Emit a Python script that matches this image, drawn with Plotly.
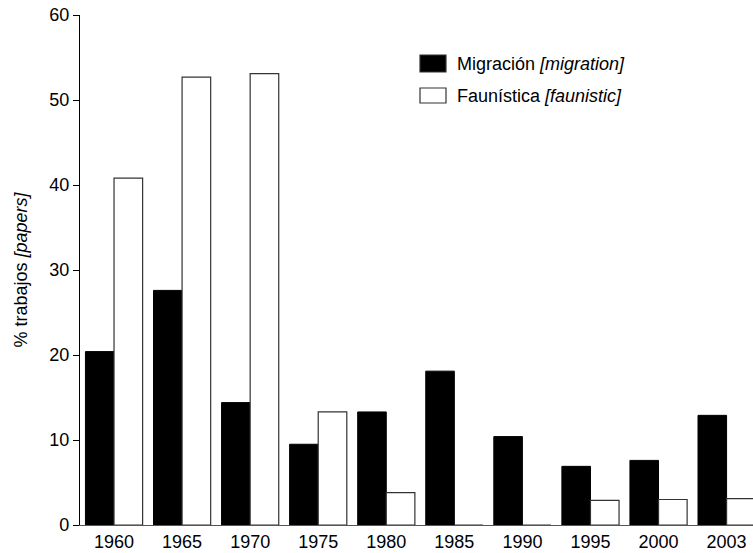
import plotly.graph_objects as go

years = ["1960", "1965", "1970", "1975", "1980", "1985", "1990", "1995", "2000", "2003"]
migracion = [20.4, 27.6, 14.4, 9.5, 13.3, 18.1, 10.4, 6.9, 7.6, 12.9]
faunistica = [40.8, 52.7, 53.1, 13.3, 3.8, 0.0, 0.0, 2.9, 3.0, 3.1]

series_names = ["Migración <i>[migration]</i>", "Faunística <i>[faunistic]</i>"]
FONT = "Liberation Sans, Arial, Helvetica, sans-serif"
FS = 18

W, H = 753, 553
ML, MR, MT, MB = 80, 0, 15, 28
pw, ph = W - ML - MR, H - MT - MB

fig = go.Figure()
fig.add_trace(go.Bar(x=years, y=migracion, name=series_names[0],
                     marker=dict(color="black", line=dict(color="black", width=1)),
                     showlegend=False))
fig.add_trace(go.Bar(x=years, y=faunistica, name=series_names[1],
                     marker=dict(color="white", line=dict(color="#333333", width=1.2)),
                     showlegend=False))

# custom legend (pixel positions converted to paper coords)
def px(x):
    return (x - ML) / pw

def py(y):
    return (H - MB - y) / ph

legend_rows = [(55, 72, "black", series_names[0]), (88, 103, "white", series_names[1])]
for top, bot, fill, label in legend_rows:
    fig.add_shape(type="rect", xref="paper", yref="paper",
                  x0=px(420), x1=px(446), y0=py(bot), y1=py(top),
                  fillcolor=fill, line=dict(color="#333333", width=1.2))
    fig.add_annotation(xref="paper", yref="paper", x=px(455), y=py((top + bot) / 2),
                       text=label, showarrow=False, xanchor="left", yanchor="middle",
                       font=dict(family=FONT, size=FS, color="black"))

fig.update_layout(
    width=W, height=H,
    margin=dict(l=ML, r=MR, t=MT, b=MB, pad=0),
    paper_bgcolor="white", plot_bgcolor="white",
    barmode="group", bargap=0.16, bargroupgap=0,
    font=dict(family=FONT, size=FS, color="black"),
    xaxis=dict(type="category", range=[-0.5, 9.388], showgrid=False,
               showline=True, linecolor="#555555", linewidth=1.2,
               ticks="", tickfont=dict(size=FS), zeroline=False),
    yaxis=dict(range=[0, 60], tickvals=[0, 10, 20, 30, 40, 50, 60], showgrid=False,
               showline=True, linecolor="black", linewidth=1.2,
               ticks="outside", ticklen=6, tickcolor="black", tickwidth=1.2,
               tickfont=dict(size=FS), zeroline=False,
               title=dict(text="% trabajos <i>[papers]</i>", font=dict(size=FS), standoff=16)),
)

fig.write_html("out.html")
